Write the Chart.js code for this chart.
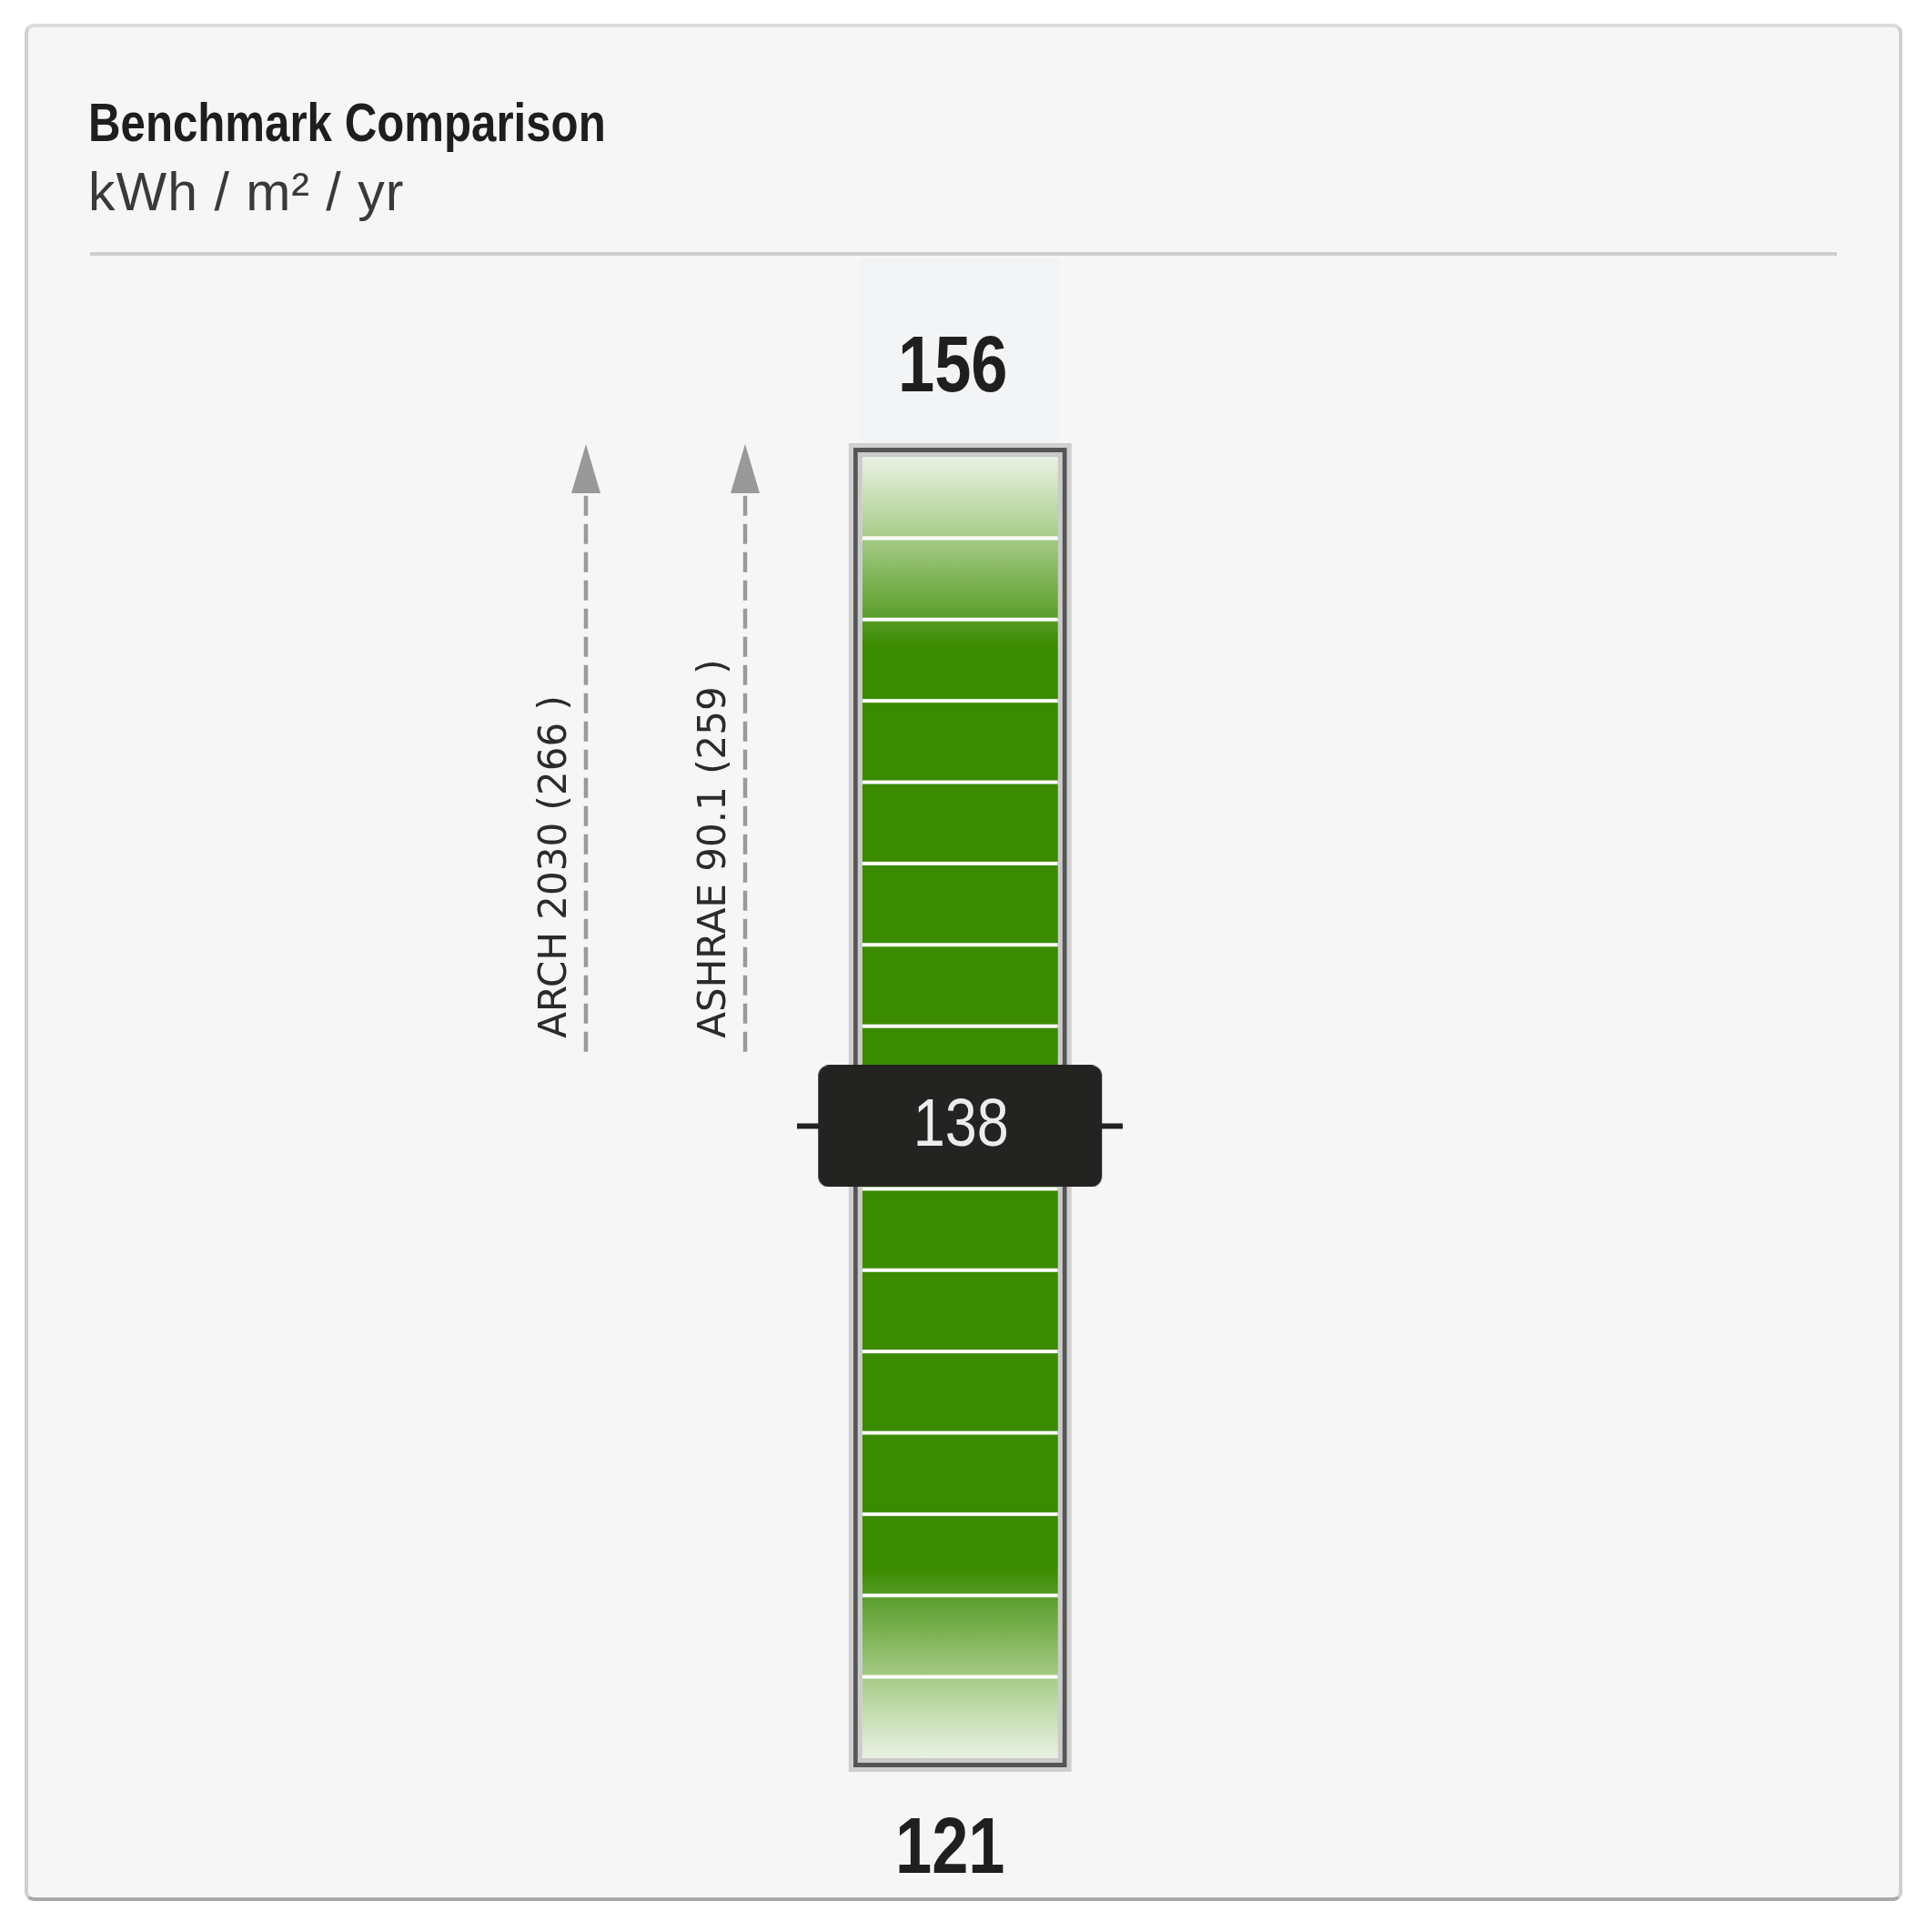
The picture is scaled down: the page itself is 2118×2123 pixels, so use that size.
<!DOCTYPE html>
<html>
<head>
  <meta charset="UTF-8">
  <title>Benchmark Comparison</title>
  <script src="https://cdn.jsdelivr.net/npm/chart.js"></script>
  <style>
    html, body {
      margin: 0;
      padding: 0;
      background: #fff;
    }
    body {
      width: 2118px;
      height: 2123px;
      position: relative;
      overflow: hidden;
    }
    .card {
      position: absolute;
      left: 27px;
      top: 26px;
      width: 2056px;
      height: 2055px;
      background: #f6f6f6;
      border: 4px solid #d0d0d0;
      border-top-color: #dcdcdc;
      border-bottom-color: #a9a9a9;
      border-radius: 10px;
    }
    .title {
      position: absolute;
      left: 97px;
      top: 105px;
      font: bold 60px/60px "Liberation Sans", Arial, sans-serif;
      color: #1e1e1e;
      white-space: nowrap;
      transform: scaleX(0.82);
      transform-origin: 0 0;
    }
    .subtitle {
      position: absolute;
      left: 97px;
      top: 182px;
      font: 59px/59px "Liberation Sans", Arial, sans-serif;
      letter-spacing: 1px;
      color: #3a3a3a;
      white-space: nowrap;
    }
    .rule {
      position: absolute;
      left: 99px;
      top: 277px;
      width: 1920px;
      height: 4px;
      background: #cecece;
    }
    #gauge {
      position: absolute;
      left: 31px;
      top: 283px;
    }
  </style>
</head>
<body>
  <div class="card"></div>
  <div class="title">Benchmark Comparison</div>
  <div class="subtitle">kWh / m² / yr</div>
  <div class="rule"></div>
  <canvas id="gauge" width="2056" height="1802"></canvas>

  <script>
    // gauge range (kWh/m²/yr), bottom and top
    const scaleRange = [121, 156];
    const bandCount = 16;

    // this building
    const buildingEui = [138];
    const buildingLane = 5.35;

    // benchmarks, both off the top of the scale
    const benchmarkNames = ['ARCH 2030', 'ASHRAE 90.1'];
    const benchmarkValues = [266, 259];
    const benchmarkLanes = [3, 4];
    const arrowFrom = 140;

    const SANS = '"Liberation Sans", Arial, sans-serif';

    function makeArrowHead() {
      const c = document.createElement('canvas');
      c.width = 34;
      c.height = 80;
      const g = c.getContext('2d');
      g.fillStyle = '#999';
      g.beginPath();
      g.moveTo(17, 26);
      g.lineTo(33, 80);
      g.lineTo(1, 80);
      g.closePath();
      g.fill();
      return c;
    }

    function makeMarker() {
      const c = document.createElement('canvas');
      c.width = 358;
      c.height = 134;
      const g = c.getContext('2d');
      g.fillStyle = '#222';
      g.fillRect(0, 64, 358, 6);
      g.fillStyle = '#232322';
      g.beginPath();
      g.roundRect(23, 0, 312, 134, 12);
      g.fill();
      return c;
    }

    const arrowHead = makeArrowHead();
    const marker = makeMarker();

    function greenRamp(ctx) {
      const area = ctx.chart.chartArea;
      if (!area) return '#3b8b00';
      const g = ctx.chart.ctx.createLinearGradient(0, area.top, 0, area.bottom);
      g.addColorStop(0, '#e9f2e3');
      g.addColorStop(0.06, '#a8cd8a');
      g.addColorStop(0.12, '#5fa030');
      g.addColorStop(0.145, '#3b8b00');
      g.addColorStop(0.855, '#3b8b00');
      g.addColorStop(0.88, '#5fa030');
      g.addColorStop(0.94, '#a8cd8a');
      g.addColorStop(1, '#e9f2e3');
      return g;
    }

    // narrow text: squeeze a regular face horizontally
    function narrowText(ctx, text, x, y, squeeze) {
      ctx.save();
      ctx.translate(x, y);
      ctx.scale(squeeze, 1);
      ctx.fillText(text, 0, 0);
      ctx.restore();
    }

    const datasets = [{
      type: 'line',
      label: 'Building',
      data: [{ x: buildingLane, y: buildingEui[0] }],
      showLine: false,
      pointRadius: 1,
      pointStyle: marker,
      clip: false,
      order: 0
    }];

    benchmarkNames.forEach((name, i) => {
      datasets.push({
        type: 'line',
        label: name + ' (' + benchmarkValues[i] + ' )',
        data: [
          { x: benchmarkLanes[i], y: arrowFrom },
          { x: benchmarkLanes[i], y: Math.min(benchmarkValues[i], scaleRange[1]) }
        ],
        borderColor: '#9a9a9a',
        borderWidth: 4.5,
        borderDash: [22, 9],
        pointRadius: [0, 1],
        pointStyle: arrowHead,
        clip: false,
        order: 1
      });
    });

    const barIndex = datasets.length;
    datasets.push({
      type: 'bar',
      label: 'Scale',
      data: [{ x: buildingLane, y: scaleRange }],
      barThickness: 215,
      backgroundColor: greenRamp,
      borderWidth: 0,
      grouped: false,
      order: 2
    });

    const gaugeDecor = {
      id: 'gaugeDecor',
      beforeDatasetsDraw(chart) {
        const bar = chart.getDatasetMeta(barIndex).data[0];
        const top = Math.min(bar.y, bar.base);
        const ctx = chart.ctx;
        ctx.save();
        ctx.fillStyle = '#f3f4f6';
        ctx.fillRect(bar.x - bar.width / 2 - 2, 0, bar.width + 3, top - 14);
        ctx.restore();
      },
      afterDatasetDraw(chart, args) {
        if (args.index !== barIndex) return;
        const bar = args.meta.data[0];
        const ctx = chart.ctx;
        const left = bar.x - bar.width / 2;
        const right = bar.x + bar.width / 2;
        const top = Math.min(bar.y, bar.base);
        const bottom = Math.max(bar.y, bar.base);
        ctx.save();
        // white band separators
        const yScale = chart.scales.y;
        const step = (scaleRange[1] - scaleRange[0]) / bandCount;
        ctx.fillStyle = '#fff';
        for (let i = 1; i < bandCount; i++) {
          const py = yScale.getPixelForValue(scaleRange[0] + i * step);
          ctx.fillRect(left, py - 2, right - left, 4);
        }
        // frame
        const ring = (off, color) => {
          ctx.strokeStyle = color;
          ctx.lineWidth = 5;
          ctx.strokeRect(left - off, top - off, right - left + 2 * off, bottom - top + 2 * off);
        };
        ring(2.5, '#cbcbcb');
        ring(7.5, '#555555');
        ring(12.5, '#cfcfcf');
        ctx.restore();
      },
      afterDatasetsDraw(chart) {
        const ctx = chart.ctx;
        const bar = chart.getDatasetMeta(barIndex).data[0];
        const top = Math.min(bar.y, bar.base);
        const bottom = Math.max(bar.y, bar.base);
        ctx.save();

        // scale end values
        ctx.fillStyle = '#1f1f1f';
        ctx.font = 'bold 88px ' + SANS;
        ctx.textAlign = 'center';
        ctx.textBaseline = 'alphabetic';
        narrowText(ctx, String(scaleRange[1]), bar.x - 8, top - 72, 0.82);
        narrowText(ctx, String(scaleRange[0]), bar.x - 11, bottom + 126, 0.82);

        // benchmark labels, rotated along the arrows
        ctx.font = '42px "DejaVu Sans", sans-serif';
        ctx.fillStyle = '#2b2b2b';
        ctx.textAlign = 'left';
        benchmarkNames.forEach((name, i) => {
          const p = chart.getDatasetMeta(1 + i).data[0];
          ctx.save();
          ctx.translate(p.x - 22, p.y - 15);
          ctx.rotate(-Math.PI / 2);
          ctx.fillText(chart.data.datasets[1 + i].label, 0, 0);
          ctx.restore();
        });

        // building value inside marker
        const m = chart.getDatasetMeta(0).data[0];
        ctx.fillStyle = '#ececec';
        ctx.font = '75px ' + SANS;
        ctx.textAlign = 'center';
        narrowText(ctx, String(buildingEui[0]), m.x + 1, m.y + 22, 0.84);
        ctx.restore();
      }
    };

    new Chart(document.getElementById('gauge'), {
      type: 'bar',
      data: { datasets: datasets },
      options: {
        responsive: false,
        animation: false,
        layout: { padding: { top: 219, bottom: 153, left: 88, right: 43 } },
        scales: {
          x: { type: 'linear', min: 0, max: 11, offset: false, display: false },
          y: { min: scaleRange[0], max: scaleRange[1], display: false }
        },
        plugins: {
          legend: { display: false },
          tooltip: { enabled: false }
        }
      },
      plugins: [gaugeDecor]
    });
  </script>
</body>
</html>
